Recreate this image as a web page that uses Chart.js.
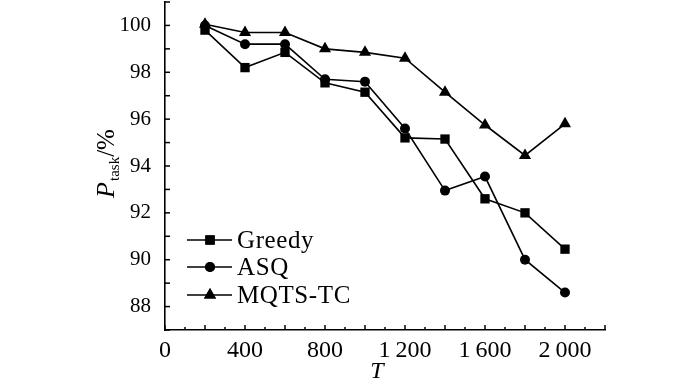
<!DOCTYPE html>
<html>
<head>
<meta charset="utf-8">
<script src="https://cdn.jsdelivr.net/npm/chart.js@4.4.1/dist/chart.umd.min.js"></script>
<style>
  html, body { margin: 0; padding: 0; background: #fff; }
  #wrap { width: 700px; height: 384px; }
</style>
</head>
<body>
<div id="wrap"><canvas id="ptaskChart" width="700" height="384"></canvas></div>
<script>
// Task completion rate vs. T
const T_VALUES = [200, 400, 600, 800, 1000, 1200, 1400, 1600, 1800, 2000];
const GREEDY   = [99.8, 98.2, 98.85, 97.55, 97.15, 95.2, 95.15, 92.6, 92.0, 90.45];
const ASQ      = [100.0, 99.2, 99.2, 97.7, 97.6, 95.6, 92.95, 93.55, 90.0, 88.6];
const MQTS_TC  = [100.05, 99.7, 99.7, 99.0, 98.85, 98.6, 97.15, 95.75, 94.45, 95.8];

const SERIES_NAMES  = ['Greedy', 'ASQ', 'MQTS-TC'];
const SERIES_POINTS = ['rect', 'circle', 'triangle'];
const SERIES_RADIUS = [6.6, 5, 7];

const X_LABELS = { 0: '0', 400: '400', 800: '800', 1200: '1\u2009200', 1600: '1\u2009600', 2000: '2\u2009000' };

const SERIF = "'Liberation Serif', 'Times New Roman', serif";
const INK = '#000';

const toXY = ys => T_VALUES.map((t, i) => ({ x: t, y: ys[i] }));

const datasets = [GREEDY, ASQ, MQTS_TC].map((ys, i) => ({
  label: SERIES_NAMES[i],
  data: toXY(ys),
  borderColor: INK,
  backgroundColor: INK,
  borderWidth: 1.6,
  pointStyle: SERIES_POINTS[i],
  pointRadius: SERIES_RADIUS[i],
  pointBorderWidth: 0,
  pointHoverRadius: SERIES_RADIUS[i],
  tension: 0,
  fill: false,
  clip: false,
}));

// inward tick marks, drawn from the scales' own ticks
const inwardTicks = {
  id: 'inwardTicks',
  afterDraw(chart) {
    const { ctx, chartArea, scales } = chart;
    ctx.save();
    ctx.strokeStyle = INK;
    ctx.lineWidth = 1.5;
    scales.x.ticks.forEach(t => {
      const px = scales.x.getPixelForValue(t.value);
      const len = t.value % 200 === 0 ? 5 : 3;
      ctx.beginPath();
      ctx.moveTo(px, chartArea.bottom);
      ctx.lineTo(px, chartArea.bottom - len);
      ctx.stroke();
    });
    scales.y.ticks.forEach(t => {
      const py = scales.y.getPixelForValue(t.value);
      ctx.beginPath();
      ctx.moveTo(chartArea.left, py);
      ctx.lineTo(chartArea.left + 5, py);
      ctx.stroke();
    });
    ctx.restore();
  },
};

// legend with line + marker, axis titles with subscript
const annotations = {
  id: 'annotations',
  afterDraw(chart) {
    const { ctx } = chart;
    ctx.save();
    ctx.fillStyle = INK;
    ctx.strokeStyle = INK;

    const rowsY = [240, 267, 295];
    chart.data.datasets.forEach((ds, i) => {
      const y = rowsY[i];
      ctx.lineWidth = 1.6;
      ctx.beginPath();
      ctx.moveTo(187, y);
      ctx.lineTo(232, y);
      ctx.stroke();
      Chart.helpers.drawPoint(ctx, { pointStyle: ds.pointStyle, radius: ds.pointRadius, borderWidth: 0 }, 210, y);
      ctx.fill();
      ctx.font = `25px ${SERIF}`;
      ctx.letterSpacing = '0.6px';
      ctx.textAlign = 'left';
      ctx.textBaseline = 'middle';
      ctx.fillText(ds.label, 237, y + 1);
      ctx.letterSpacing = '0px';
    });

    // x title
    ctx.font = `italic 24px ${SERIF}`;
    ctx.textAlign = 'center';
    ctx.textBaseline = 'alphabetic';
    ctx.fillText('T', 377, 378);

    // y title, rotated
    ctx.translate(114, 164);
    ctx.rotate(-Math.PI / 2);
    ctx.textAlign = 'left';
    const parts = [
      { s: 'P', f: `italic 26px ${SERIF}`, dy: 0 },
      { s: 'task', f: `15px ${SERIF}`, dy: 5 },
      { s: '/%', f: `25px ${SERIF}`, dy: 0 },
    ];
    let total = 0;
    parts.forEach(p => { ctx.font = p.f; total += ctx.measureText(p.s).width; });
    let x = -total / 2;
    parts.forEach(p => {
      ctx.font = p.f;
      ctx.fillText(p.s, x, p.dy);
      x += ctx.measureText(p.s).width + (p.s === 'P' ? 1 : 0);
    });
    ctx.restore();
  },
};

new Chart(document.getElementById('ptaskChart').getContext('2d'), {
  type: 'line',
  data: { datasets },
  options: {
    responsive: false,
    animation: false,
    layout: { autoPadding: false, padding: { left: 0, right: 95, top: 2, bottom: 0 } },
    plugins: { legend: { display: false }, tooltip: { enabled: false } },
    scales: {
      x: {
        type: 'linear',
        min: 0,
        max: 2200,
        afterFit: s => { s.height = 54; s.paddingLeft = 0; s.paddingRight = 0; },
        ticks: {
          stepSize: 100,
          autoSkip: false,
          maxRotation: 0,
          padding: 6,
          color: INK,
          font: { family: SERIF, size: 24 },
          callback: v => X_LABELS[v] ?? '',
        },
        grid: { display: false, drawTicks: false },
        border: { display: true, color: INK, width: 1.6 },
      },
      y: {
        min: 87,
        max: 101,
        afterFit: s => { s.width = 165; s.paddingTop = 0; s.paddingBottom = 0; },
        ticks: {
          stepSize: 1,
          autoSkip: false,
          padding: 14,
          color: INK,
          font: { family: SERIF, size: 21 },
          callback: v => (v % 2 === 0 ? String(v) : ''),
        },
        grid: { display: false, drawTicks: false },
        border: { display: true, color: INK, width: 1.6 },
      },
    },
  },
  plugins: [inwardTicks, annotations],
});
</script>
</body>
</html>
